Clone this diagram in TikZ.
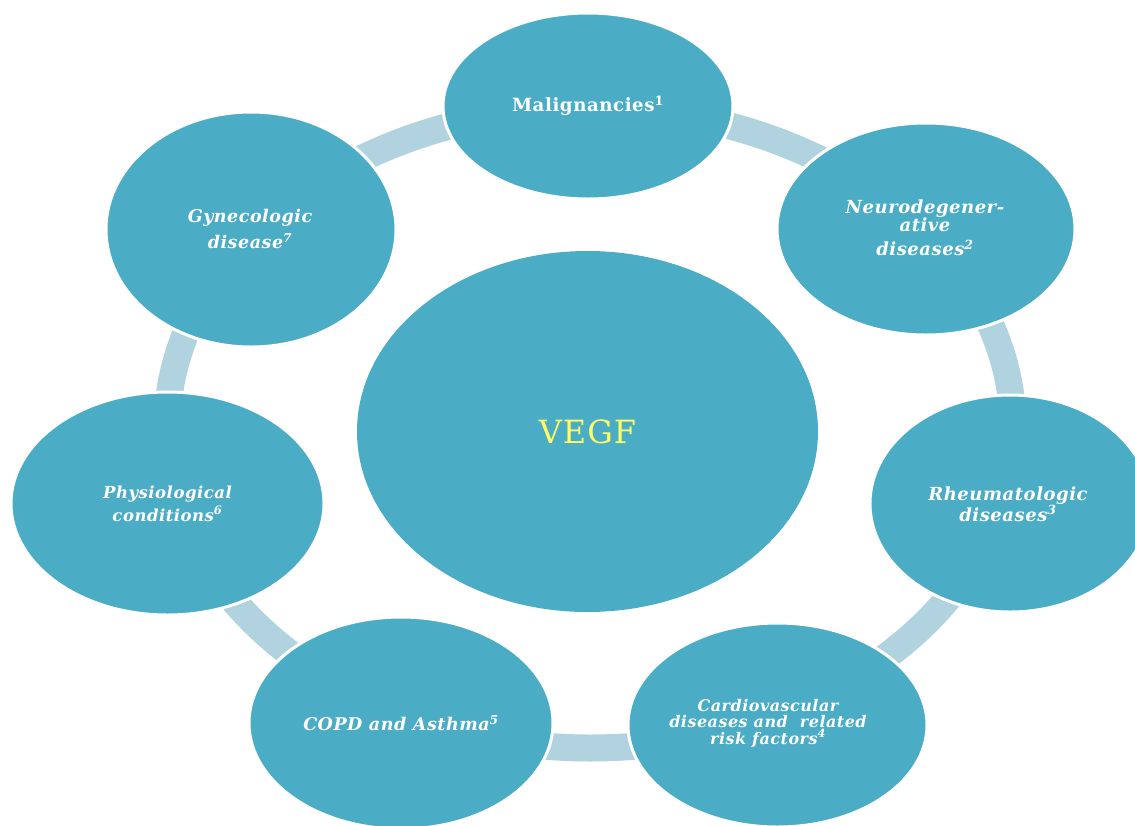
\documentclass[tikz,border=0pt]{standalone}
\usepackage{fontspec}
\setmainfont{DejaVu Serif}[LetterSpace=3]
\usetikzlibrary{shapes.geometric}
\definecolor{blobc}{HTML}{4BACC6}
\definecolor{ringc}{HTML}{B1D3DF}
\definecolor{vegfy}{HTML}{FFFF66}
\tikzset{
  blob/.style={ellipse, fill=blobc, draw=white, line width=3pt, inner sep=0pt},
  lbl/.style={text=white, align=center, inner sep=0pt, font=\bfseries\itshape},
  ringline/.style={draw=ringc, line width=27pt}
}
\begin{document}
\begin{tikzpicture}[x=1pt, y=-1pt]
\useasboundingbox (0,0) rectangle (1135,825);
\clip (0,0) rectangle (1135,825);
\fill[white] (0,0) rectangle (1135,825);
% ring behind the outer ellipses
\coordinate (ringc) at (590,428);
\draw[ringline] (ringc) ellipse [x radius=423pt, y radius=320pt];
% central ellipse
\node[blob, line width=0pt, draw=none, minimum width=461pt, minimum height=361pt] (vegf) at (587.5,431.5) {};
\node[text=vegfy, inner sep=0pt, font=\fontsize{32}{32}\selectfont] (vegft) at (vegf.center) {VEGF};
% outer ellipses
\node[blob, minimum width=290pt, minimum height=186pt] (mal) at (588,106) {};
\node[blob, minimum width=298pt, minimum height=212pt] (neu) at (926,229) {};
\node[blob, minimum width=280pt, minimum height=217pt] (rhe) at (1010,503.5) {};
\node[blob, minimum width=299pt, minimum height=204pt] (car) at (777.5,725) {};
\node[blob, minimum width=304pt, minimum height=212pt] (cop) at (401,723) {};
\node[blob, minimum width=313pt, minimum height=223pt] (phy) at (167.5,503.5) {};
\node[blob, minimum width=290pt, minimum height=235pt] (gyn) at (251,229.5) {};
% labels
\node[lbl, font=\bfseries\fontsize{18.2}{18}\selectfont] (malt) at (588,106) {Malignancies\textsuperscript{1}};
\node[lbl, font=\bfseries\itshape\fontsize{18}{18}\selectfont] (neut) at (925,228) {Neurodegener-\\ative\\[6pt]diseases\textsuperscript{2}};
\node[lbl, font=\bfseries\itshape\fontsize{18}{18}\selectfont] (rhet) at (1008,504) {Rheumatologic\\diseases\textsuperscript{3}};
\node[lbl, font=\bfseries\itshape\fontsize{16}{16.5}\selectfont] (cart) at (768,723) {Cardiovascular\\diseases and \ related\\risk factors\textsuperscript{4}};
\node[lbl, font=\bfseries\itshape\fontsize{17.5}{18}\selectfont] (copt) at (401,723) {COPD and Asthma\textsuperscript{5}};
\node[lbl, font=\bfseries\itshape\fontsize{16.5}{23}\selectfont] (phyt) at (167.5,503.5) {Physiological\\conditions\textsuperscript{6}};
\node[lbl, font=\bfseries\itshape\fontsize{17.5}{26}\selectfont] (gynt) at (250,229) {Gynecologic\\disease\textsuperscript{7}};
\end{tikzpicture}
\end{document}
